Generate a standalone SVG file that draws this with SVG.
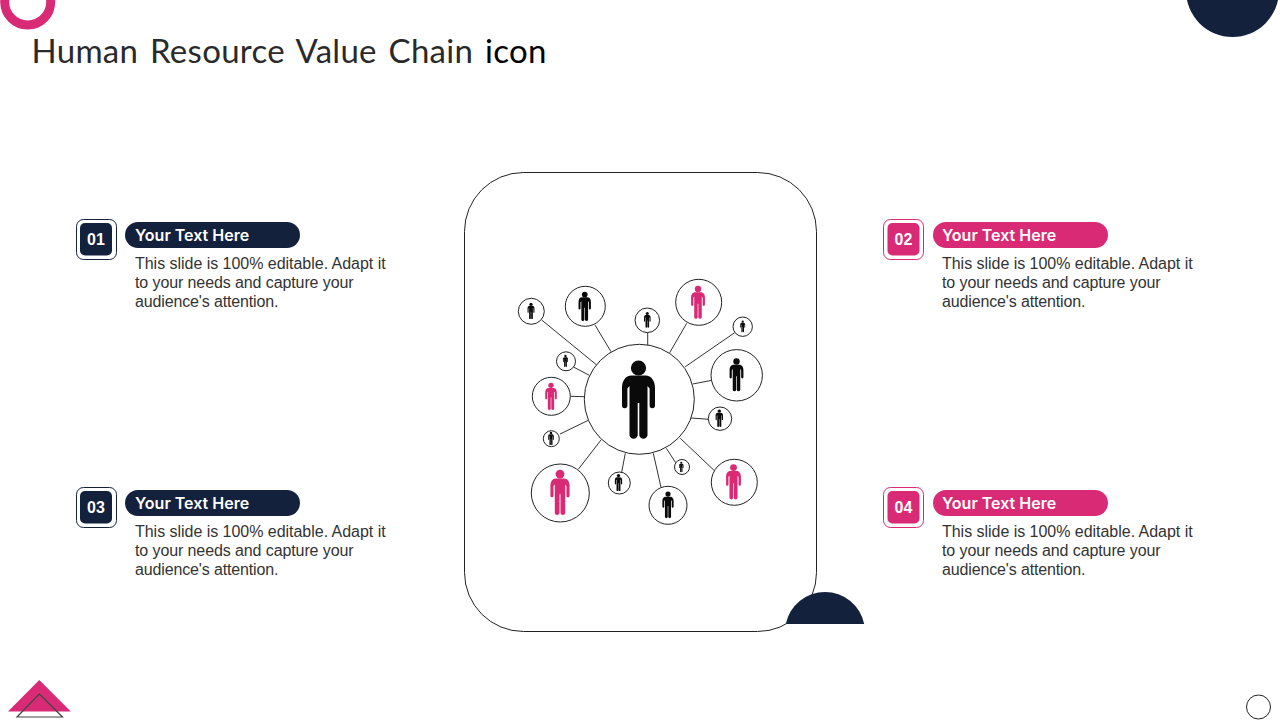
<svg xmlns="http://www.w3.org/2000/svg" xmlns:xlink="http://www.w3.org/1999/xlink" width="1280" height="720" viewBox="0 0 1280 720">
<style>
.title{font:33px Lato,"Open Sans",sans-serif;fill:#2a2a2a;word-spacing:3px;letter-spacing:.29px}
.pill{font:600 16px Inter,"Liberation Sans",sans-serif;fill:#fff}
.num{font:700 16px "Liberation Sans",Arial,sans-serif;fill:#fff;text-anchor:middle}
.body{font:16px "Liberation Sans",Arial,sans-serif;fill:#333}
.l1{letter-spacing:-.03px}.l2{letter-spacing:-.1px}.l3{letter-spacing:-.14px}
.nav{fill:#14213d}.pk{fill:#d92a76}
.line{fill:none;stroke:#333;stroke-width:1}
.ring{fill:#fff;stroke:#222;stroke-width:1}
.k{fill:#0a0a0a}
</style>
<defs>
<g id="person">
<circle cx="0" cy="-32" r="7.6"/>
<path d="M-7,-24.5H7C13,-24.5 16.5,-19 16.5,-12V5.5a2.7,2.7 0 0 1 -5.4,0V-11.5L9,-14V35.500a4.250,4.250 0 0 1 -8.200,0V3H-.8V35.500a4.250,4.250 0 0 1 -8.200,0V-14L-11.100,-11.500V5.500a2.700,2.700 0 0 1 -5.400,0V-12C-16.500,-19 -13,-24.500 -7,-24.500Z"/>
</g>
</defs>
<circle cx="27.700" cy="2" r="23" fill="none" stroke="#d92a76" stroke-width="9"/>
<circle cx="1232.500" cy="-9.500" r="46.500" class="nav"/>
<text x="31.500" y="63" class="title">Human Resource Value Chain <tspan fill="#000">icon</tspan></text>
<rect x="464.500" y="172.500" width="352" height="459" rx="59" fill="#fff" stroke="#222"/>
<path d="M785.800,624A40,40 0 0 1 864.200,624Z" class="nav"/>
<path d="M39.300,680L70.800,711.500H8Z" class="pk"/>
<path d="M39.300,694L62.500,717H17Z" fill="none" stroke="#444" stroke-width="1.200"/>
<circle cx="1258.500" cy="707" r="12" fill="#fff" stroke="#222"/>

<g id="connectors" class="line">
<path d="M541.700,320L596.700,365"/><path d="M595,325L611,351.700"/><path d="M647.700,332.300V345"/><path d="M686.700,323.300L669.700,352.700"/><path d="M734.700,332.700L685.300,366.700"/><path d="M712,380.300L692.700,384"/><path d="M708.700,419.300L691,418"/><path d="M714,470.300L680.300,438.300"/><path d="M675.700,462.700L666.300,448.300"/><path d="M661,487.300L653.300,453.300"/><path d="M621.700,472L625.300,453.300"/><path d="M578.300,469.300L601,440"/><path d="M560,434L588.300,420.300"/><path d="M570.700,396.300L584.700,396.700"/><path d="M574,367.300L589.300,375.300"/>
</g>

<g id="hub"><circle cx="639.300" cy="399.300" r="55" class="ring"/><use xlink:href="#person" href="#person" transform="translate(638.500,400)" class="k"/></g>
<g id="n1"><circle cx="531.300" cy="311.300" r="13" class="ring"/><use href="#person" transform="translate(531,311) scale(.21)" class="k"/></g>
<g id="n2"><circle cx="585.300" cy="306.300" r="20" class="ring"/><use href="#person" transform="translate(584.700,306.500) scale(.375)" class="k"/></g>
<g id="n3"><circle cx="647.300" cy="320.300" r="12.300" class="ring"/><use href="#person" transform="translate(647.300,320) scale(.2)" class="k"/></g>
<g id="n4"><circle cx="698.700" cy="302.300" r="23" class="ring"/><use href="#person" transform="translate(698,302.500) scale(.42)" class="pk"/></g>
<g id="n5"><circle cx="742.700" cy="326.700" r="9.700" class="ring"/><use href="#person" transform="translate(742.700,326.500) scale(.15)" class="k"/></g>
<g id="n6"><circle cx="736.700" cy="375.300" r="25.700" class="ring"/><use href="#person" transform="translate(736.500,375) scale(.42)" class="k"/></g>
<g id="n7"><circle cx="720" cy="418.700" r="11.700" class="ring"/><use href="#person" transform="translate(719.300,418.300) scale(.225)" class="k"/></g>
<g id="n8"><circle cx="734.300" cy="482.300" r="23" class="ring"/><use href="#person" transform="translate(733.500,482) scale(.45)" class="pk"/></g>
<g id="n9"><circle cx="682" cy="467" r="7.500" class="ring"/><use href="#person" transform="translate(681.300,467) scale(.135)" class="k"/></g>
<g id="n10"><circle cx="668" cy="505.300" r="19" class="ring"/><use href="#person" transform="translate(668,505) scale(.34)" class="k"/></g>
<g id="n11"><circle cx="619.300" cy="483" r="11" class="ring"/><use href="#person" transform="translate(618.500,482.600) scale(.22)" class="k"/></g>
<g id="n12"><circle cx="560.300" cy="493" r="29" class="ring"/><use href="#person" transform="translate(560,492.600) scale(.58)" class="pk"/></g>
<g id="n13"><circle cx="551.300" cy="438.700" r="8" class="ring"/><use href="#person" transform="translate(551,438.500) scale(.17)" class="k"/></g>
<g id="n14"><circle cx="551.300" cy="396.300" r="19" class="ring"/><use href="#person" transform="translate(551,396.500) scale(.35)" class="pk"/></g>
<g id="n15"><circle cx="566" cy="361.300" r="9.500" class="ring"/><use href="#person" transform="translate(565.500,361) scale(.155)" class="k"/></g>

<g id="item1">
<rect x="76.500" y="219.500" width="40" height="40" rx="7" fill="#fff" stroke="#14213d"/><rect x="80" y="223" width="32" height="32.500" rx="5" class="nav"/>
<text x="96" y="245" class="num">01</text>
<rect x="125" y="222" width="175" height="26" rx="13" class="nav"/><text x="135" y="241" class="pill">Your Text Here</text>
<text class="body"><tspan x="135" y="269" class="l1">This slide is 100% editable. Adapt it</tspan><tspan x="135" y="288" class="l2">to your needs and capture your</tspan><tspan x="135" y="307" class="l3">audience's attention.</tspan></text>
</g>
<g id="item2">
<rect x="883.500" y="219.500" width="40" height="40" rx="7" fill="#fff" stroke="#d92a76"/><rect x="887.500" y="223" width="32" height="32.500" rx="5" class="pk"/>
<text x="903.500" y="245" class="num">02</text>
<rect x="933" y="222" width="175" height="26" rx="13" class="pk"/><text x="942" y="241" class="pill">Your Text Here</text>
<text class="body"><tspan x="942" y="269" class="l1">This slide is 100% editable. Adapt it</tspan><tspan x="942" y="288" class="l2">to your needs and capture your</tspan><tspan x="942" y="307" class="l3">audience's attention.</tspan></text>
</g>
<g id="item3">
<rect x="76.500" y="487.500" width="40" height="40" rx="7" fill="#fff" stroke="#14213d"/><rect x="80" y="491" width="32" height="32.500" rx="5" class="nav"/>
<text x="96" y="513" class="num">03</text>
<rect x="125" y="490" width="175" height="26" rx="13" class="nav"/><text x="135" y="509" class="pill">Your Text Here</text>
<text class="body"><tspan x="135" y="537" class="l1">This slide is 100% editable. Adapt it</tspan><tspan x="135" y="556" class="l2">to your needs and capture your</tspan><tspan x="135" y="575" class="l3">audience's attention.</tspan></text>
</g>
<g id="item4">
<rect x="883.500" y="487.500" width="40" height="40" rx="7" fill="#fff" stroke="#d92a76"/><rect x="887.500" y="491" width="32" height="32.500" rx="5" class="pk"/>
<text x="903.500" y="513" class="num">04</text>
<rect x="933" y="490" width="175" height="26" rx="13" class="pk"/><text x="942" y="509" class="pill">Your Text Here</text>
<text class="body"><tspan x="942" y="537" class="l1">This slide is 100% editable. Adapt it</tspan><tspan x="942" y="556" class="l2">to your needs and capture your</tspan><tspan x="942" y="575" class="l3">audience's attention.</tspan></text>
</g>
</svg>
